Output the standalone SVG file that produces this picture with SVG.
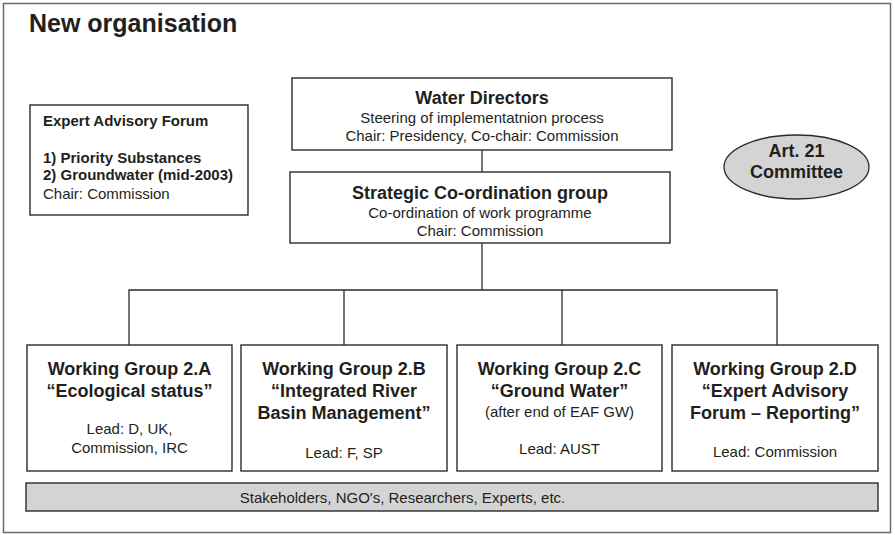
<svg xmlns="http://www.w3.org/2000/svg" width="895" height="535" viewBox="0 0 895 535">
<style>
text{font-family:"Liberation Sans",Arial,sans-serif;fill:#231f20}
.box{fill:#fff;stroke:#2b2b2b;stroke-width:1.4}
.grey{fill:#d4d4d4;stroke:#2b2b2b;stroke-width:1.4}
.t{font-size:18px;font-weight:bold;text-anchor:middle}
.s{font-size:15px;text-anchor:middle}
.b{font-size:15px;font-weight:bold}
.r{font-size:15px}
.conn{fill:none;stroke:#2b2b2b;stroke-width:1.3}
</style>
<rect x="3.5" y="3.5" width="887" height="529" fill="#fff" stroke="#6a6a6a" stroke-width="1.5"/>
<text x="29" y="32" style="font-size:25px;font-weight:bold">New organisation</text>

<g id="connectors">
<line class="conn" x1="482" y1="150" x2="482" y2="172"/>
<line class="conn" x1="482" y1="243" x2="482" y2="290"/>
<polyline class="conn" points="129,345 129,290 777,290 777,345"/>
<line class="conn" x1="344" y1="290" x2="344" y2="345"/>
<line class="conn" x1="562" y1="290" x2="562" y2="345"/>
</g>

<g id="expert-advisory-forum">
<rect class="box" x="30" y="105" width="218" height="110"/>
<text class="b" x="43" y="126">Expert Advisory Forum</text>
<text class="b" x="43" y="163">1) Priority Substances</text>
<text class="b" x="43" y="180">2) Groundwater (mid-2003)</text>
<text class="r" x="43" y="199">Chair: Commission</text>
</g>

<g id="water-directors">
<rect class="box" x="292" y="78" width="380" height="72"/>
<text class="t" x="482" y="104">Water Directors</text>
<text class="s" x="482" y="123">Steering of implementatnion process</text>
<text class="s" x="482" y="141">Chair: Presidency, Co-chair: Commission</text>
</g>

<g id="strategic-coordination">
<rect class="box" x="290" y="172" width="380" height="71"/>
<text class="t" x="480" y="199">Strategic Co-ordination group</text>
<text class="s" x="480" y="218">Co-ordination of work programme</text>
<text class="s" x="480" y="236">Chair: Commission</text>
</g>

<g id="art21">
<ellipse cx="796.5" cy="167" rx="72.5" ry="32" fill="#d4d4d4" stroke="#2b2b2b" stroke-width="1.3"/>
<text class="t" x="796.5" y="157" style="font-size:18px">Art. 21</text>
<text class="t" x="796.5" y="178" style="font-size:18px">Committee</text>
</g>

<g id="wg-2a">
<rect class="box" x="27" y="345" width="205" height="126"/>
<text class="t" x="129.5" y="375">Working Group 2.A</text>
<text class="t" x="129.5" y="397">“Ecological status”</text>
<text class="s" x="129.5" y="434">Lead: D, UK,</text>
<text class="s" x="129.5" y="453">Commission, IRC</text>
</g>

<g id="wg-2b">
<rect class="box" x="241" y="345" width="206" height="126"/>
<text class="t" x="344" y="375">Working Group 2.B</text>
<text class="t" x="344" y="397">“Integrated River</text>
<text class="t" x="344" y="419">Basin Management”</text>
<text class="s" x="344" y="458">Lead: F, SP</text>
</g>

<g id="wg-2c">
<rect class="box" x="457" y="345" width="205" height="126"/>
<text class="t" x="559.5" y="375">Working Group 2.C</text>
<text class="t" x="559.5" y="397">“Ground Water”</text>
<text class="s" x="559.5" y="417">(after end of EAF GW)</text>
<text class="s" x="559.5" y="454">Lead: AUST</text>
</g>

<g id="wg-2d">
<rect class="box" x="672" y="345" width="206" height="126"/>
<text class="t" x="775" y="375">Working Group 2.D</text>
<text class="t" x="775" y="397">“Expert Advisory</text>
<text class="t" x="775" y="419">Forum – Reporting”</text>
<text class="s" x="775" y="457">Lead: Commission</text>
</g>

<g id="stakeholders">
<rect class="grey" x="26" y="483" width="852" height="28"/>
<text class="s" x="402.5" y="503">Stakeholders, NGO's, Researchers, Experts, etc.</text>
</g>
</svg>
